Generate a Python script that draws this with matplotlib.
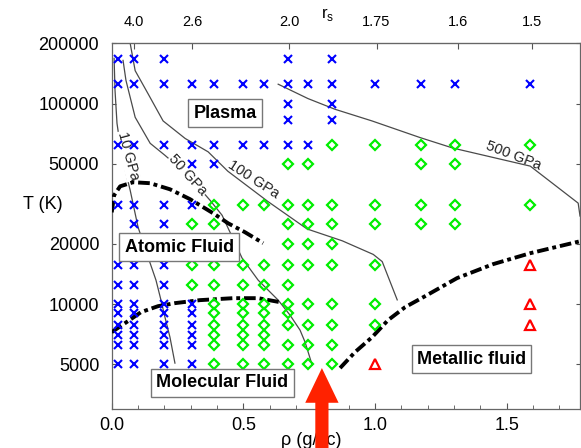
import numpy as np
from matplotlib import pyplot as plt

plt.rcParams["font.family"] = ["Liberation Sans", "DejaVu Sans"]

# Simulation points: density (g/cc) -> temperatures (K)
plasma_pts = {
    0.025: [166667, 125000, 62500, 31250, 15625, 12500, 10000, 9000, 7900, 7000, 6250, 5000],
    0.085: [166667, 125000, 62500, 31250, 25000, 15625, 12500, 10000, 9000, 7900, 7000, 6250, 5000],
    0.2: [166667, 125000, 62500, 31250, 25000, 15625, 12500, 10000, 9000, 7900, 7000, 6250, 5000],
    0.305: [125000, 62500, 50000, 31250, 10000, 9000, 7900, 7000, 6250, 5000],
    0.39: [125000, 62500, 50000],
    0.5: [125000, 62500],
    0.58: [125000, 62500],
    0.67: [166667, 125000, 100000, 83333, 62500],
    0.745: [125000, 62500],
    0.835: [166667, 125000, 100000, 83333],
    1.0: [125000],
    1.175: [125000],
    1.305: [125000],
    1.59: [125000],
}
fluid_pts = {
    0.305: [25000, 15625, 12500],
    0.39: [31250, 25000, 15625, 12500, 10000, 9000, 7900, 7000, 6250, 5000],
    0.5: [31250, 15625, 12500, 10000, 9000, 7900, 7000, 6250, 5000],
    0.58: [31250, 15625, 12500, 10000, 9000, 7900, 7000, 6250, 5000],
    0.67: [50000, 31250, 25000, 20000, 15625, 12500, 10000, 9000, 7900, 6250, 5000],
    0.745: [50000, 31250, 25000, 20000, 15625, 10000, 7900, 6250, 5000],
    0.835: [62500, 31250, 25000, 20000, 15625, 10000, 7900, 6250, 5000],
    1.0: [62500, 31250, 25000, 15625, 10000, 7900],
    1.175: [62500, 50000, 31250, 25000],
    1.305: [62500, 50000, 31250, 25000],
    1.59: [62500, 31250],
}
metal_pts = {
    1.0: [5000],
    1.59: [15625, 10000, 7900],
}

# isobars
p10_rho = [0.009, 0.0125, 0.020, 0.035, 0.054, 0.070, 0.100, 0.138, 0.168, 0.187, 0.202, 0.221, 0.240]
p10_T = [168200, 116500, 79800, 58500, 45000, 37000, 24200, 17150, 13170, 10470, 8615, 6850, 5080]
p50_rho = [0.043, 0.054, 0.089, 0.146, 0.202, 0.290, 0.373, 0.419, 0.495, 0.556, 0.632, 0.677, 0.715, 0.734, 0.761]
p50_T = [164300, 130700, 85500, 63400, 55250, 43900, 33000, 27760, 16960, 13170, 10470, 8815, 7420, 6470, 4970]
p100_rho = [0.070, 0.089, 0.138, 0.195, 0.279, 0.366, 0.441, 0.593, 0.742, 0.875, 0.993, 1.027, 1.084]
p100_T = [200000, 146000, 112000, 82000, 67000, 57500, 46000, 32500, 23700, 20700, 17700, 16300, 10500]
p500_rho = [0.632, 0.745, 0.848, 0.988, 1.171, 1.296, 1.589, 1.771, 1.778]
p500_T = [125000, 106000, 93700, 82000, 67700, 60000, 48800, 31900, 27500]

# phase boundaries
diss_rho = [0.0, 0.009, 0.032, 0.081, 0.146, 0.221, 0.297, 0.385, 0.442, 0.506, 0.575]
diss_T = [28700, 34900, 38700, 40550, 40100, 37400, 33400, 28400, 25300, 22840, 20140]
mol_rho = [0.0, 0.062, 0.111, 0.176, 0.240, 0.335, 0.461, 0.556, 0.639]
mol_T = [7250, 8230, 9120, 9770, 10115, 10470, 10710, 10710, 10230]
met_rho = [0.867, 0.924, 0.989, 1.049, 1.114, 1.190, 1.311, 1.448, 1.589, 1.779]
met_T = [4800, 5770, 6850, 8320, 9660, 10960, 13480, 15830, 17950, 20600]

rs_ticks = [4.0, 2.6, 2.0, 1.75, 1.6, 1.5]
rs_labels = ["4.0", "2.6", "2.0", "1.75", "1.6", "1.5"]
x_ticks = [0.0, 0.5, 1.0, 1.5]
y_ticks = [5000, 10000, 20000, 50000, 100000, 200000]


def rho_to_rs(r):
    r = np.asarray(r, dtype=float)
    return (5.388 / np.maximum(r, 1e-6)) ** (1 / 3)


def rs_to_rho(s):
    s = np.asarray(s, dtype=float)
    return 5.388 / np.maximum(s, 1e-6) ** 3


fig = plt.figure(figsize=(5.81, 4.48), dpi=100)
ax = fig.add_axes([0.1923, 0.0871, 0.806, 0.8163])
ax.set_yscale("log")
ax.set_xlim(0, 1.778)
ax.set_ylim(3000, 200000)

line_kw = dict(color="#4a4a4a", lw=0.9, zorder=1)
for r, t in [(p10_rho, p10_T), (p50_rho, p50_T), (p100_rho, p100_T), (p500_rho, p500_T)]:
    ax.plot(r, t, **line_kw)

lab_kw = dict(fontsize=10.5, color="#222222", ha="center", va="center", zorder=2)
white = dict(boxstyle="square,pad=0.05", fc="white", ec="none")
ax.text(0.062, 55000, "10 GPa", rotation=-75, bbox=white, **lab_kw)
ax.text(0.290, 44000, "50 GPa", rotation=-48, bbox=white, **lab_kw)
ax.text(0.540, 42000, "100 GPa", rotation=-33, **lab_kw)
ax.text(1.524, 55000, "500 GPa", rotation=-21, **lab_kw)

dash = (0, (3.0, 1.0, 1.0, 1.0))
for r, t in [(diss_rho, diss_T), (mol_rho, mol_T), (met_rho, met_T)]:
    ax.plot(r, t, color="black", lw=2.8, linestyle=dash, zorder=3)

for rho, temps in plasma_pts.items():
    ax.plot([rho] * len(temps), temps, "x", color="#0000ff", ms=5.5, mew=1.5, zorder=4)
for rho, temps in fluid_pts.items():
    ax.plot([rho] * len(temps), temps, "D", mfc="none", mec="#00ee00", ms=5.2, mew=1.6, zorder=4)
for rho, temps in metal_pts.items():
    ax.plot([rho] * len(temps), temps, "^", mfc="none", mec="#ff0000", ms=7.5, mew=1.6, zorder=4)

box = dict(boxstyle="square,pad=0.3", fc="white", ec="#777777", lw=1.0)
reg_kw = dict(fontsize=13, fontweight="bold", ha="center", va="center", bbox=box, zorder=6)
ax.text(0.431, 89500, "Plasma", **reg_kw)
ax.text(0.256, 19230, "Atomic Fluid", **reg_kw)
ax.text(0.419, 4060, "Molecular Fluid", **reg_kw)
ax.text(1.366, 5320, "Metallic fluid", **reg_kw)

ax.annotate("", xy=(0.798, 4800), xytext=(0.798, 1900), annotation_clip=False,
            arrowprops=dict(arrowstyle="simple,head_width=24,head_length=25,tail_width=9.5",
                            mutation_scale=1, fc="#ff2200", ec="none", shrinkA=0, shrinkB=0),
            zorder=7)

ax.set_xticks(x_ticks)
ax.set_xticklabels([f"{v:.1f}" for v in x_ticks])
ax.set_xticks(np.arange(0.1, 1.78, 0.1), minor=True)
ax.set_yticks(y_ticks)
ax.set_yticklabels([str(v) for v in y_ticks])
ax.yaxis.set_minor_locator(plt.NullLocator())
ax.tick_params(axis="both", which="both", direction="in", labelsize=13, colors="#555555",
               labelcolor="black")
ax.tick_params(axis="x", which="major", length=4, pad=6, top=False)
ax.tick_params(axis="x", which="minor", length=3, top=False)
ax.tick_params(axis="y", length=3, pad=9, right=True)
for s in ax.spines.values():
    s.set_color("#666666")
    s.set_linewidth(0.9)

sec = ax.secondary_xaxis("top", functions=(rho_to_rs, rs_to_rho))
sec.set_xticks(rs_ticks)
sec.set_xticklabels(rs_labels)
sec.tick_params(direction="in", length=4, pad=10, labelsize=10.5, colors="#555555", labelcolor="black")
sec.spines["top"].set_color("#666666")
ax.text(0.46, 1.078, r"r$_\mathregular{s}$", fontsize=12, ha="center", va="center",
        transform=ax.transAxes)

ax.set_xlabel("ρ (g/cc)", fontsize=13)
ax.xaxis.set_label_coords(0.4256, -0.062)
ax.set_ylabel("T (K)", fontsize=13, rotation=0, ha="center", va="center")
ax.yaxis.set_label_coords(-0.147, 0.558)

fig.savefig("out.png", dpi=100)
